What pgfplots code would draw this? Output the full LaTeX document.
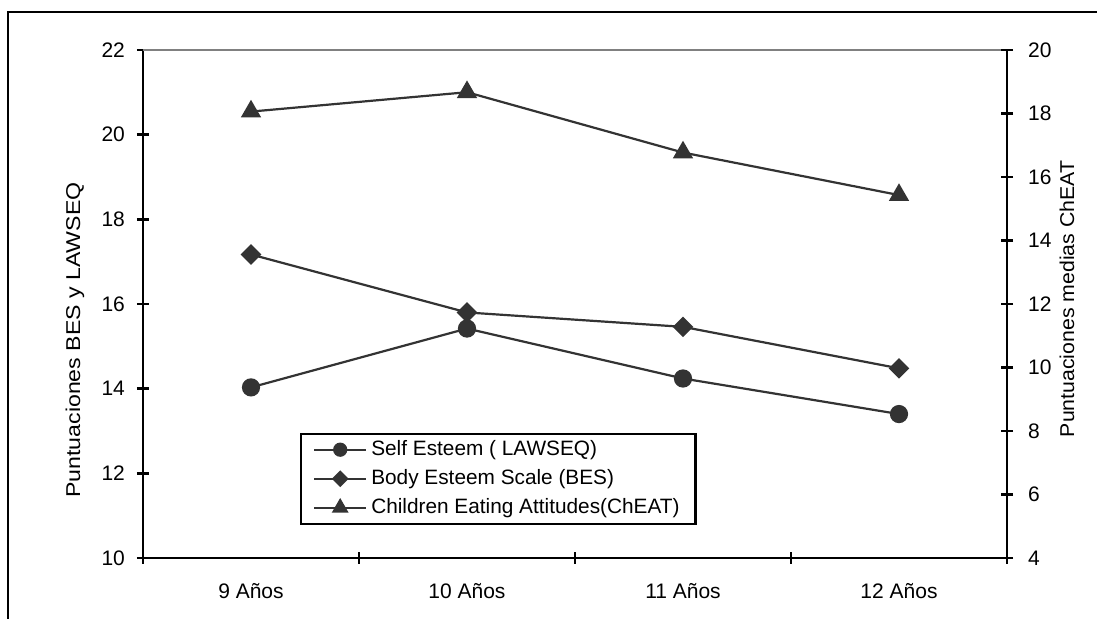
\documentclass[border=0pt]{standalone}
\usepackage{fontspec}
\setmainfont{Liberation Sans}
\usepackage{pgfplots}
\pgfplotsset{compat=1.18}
\definecolor{series}{HTML}{333333}
\definecolor{topgray}{HTML}{808080}

\begin{document}
\begin{tikzpicture}
\path[use as bounding box] (0pt,0pt) rectangle (548.5pt,309.5pt);
\draw[line width=1.1pt] (4pt,-5pt) -- (4pt,303.5pt) -- (560pt,303.5pt);

\pgfplotsset{
  common/.style={
    at={(71.5pt,30.5pt)}, anchor=south west,
    scale only axis, width=432pt, height=254pt,
    xmin=0.5, xmax=4.5,
    tick align=center, major tick length=6pt, minor tick length=6pt,
    tick style={black, line width=1.2pt},
    axis line style={black, line width=1.3pt, -},
    x axis line style={-}, y axis line style={-},
    ticklabel style={font=\fontsize{10.5}{12}\selectfont},
    /pgf/number format/assume math mode=true,
    label style={font=\fontsize{10}{12}\selectfont},
    clip=false,
  }
}

\begin{axis}[common,
  axis x line*=bottom, axis y line*=left,
  ymin=10, ymax=22, ytick={10,12,...,22},
  xtick={1,2,3,4}, xticklabels={9 Años,10 Años,11 Años,12 Años},
  minor xtick={0.5,1.5,2.5,3.5,4.5},
  major x tick style={draw=none},
  xticklabel style={yshift=-6pt},
  yticklabel style={xshift=-2.5pt},
  ylabel={\scalebox{1.156}[1]{Puntuaciones BES y LAWSEQ}},
  ylabel style={at={(axis description cs:-0.0787,0.429)}, anchor=center, rotate=0},
]
\draw[topgray, line width=1.1pt] (rel axis cs:0,1) -- (rel axis cs:1,1);
\addplot[series, line width=1.1pt, mark=*, mark size=4pt, mark options={solid, fill=series}]
  coordinates {(1,14.03) (2,15.42) (3,14.24) (4,13.40)};
\addplot[series, line width=1.1pt, mark=square*, mark size=3.1pt, mark options={solid, fill=series, rotate=45}]
  coordinates {(1,17.17) (2,15.80) (3,15.46) (4,14.48)};
\end{axis}

\begin{axis}[common,
  axis y line*=right, axis x line=none,
  ymin=4, ymax=20, ytick={4,6,...,20},
  yticklabel style={xshift=4pt},
  ylabel={\scalebox{1.064}[1]{Puntuaciones medias ChEAT}},
  ylabel style={at={(axis description cs:1.0694,0.51)}, anchor=center, rotate=0},
  legend image code/.code={\draw[mark repeat=2,mark phase=2] plot coordinates {(0pt,0pt) (13pt,0pt) (26pt,0pt)};},
  legend style={at={(axis description cs:0.1817,0.065)}, anchor=south west,
    draw=black, line width=1.1pt, font=\fontsize{10.4}{12}\selectfont,
    inner xsep=6pt, inner ysep=1.5pt, row sep=1.5pt,
    nodes={inner sep=2pt, anchor=west}},
  legend cell align=left,
]
\addplot[series, line width=1.1pt, mark=triangle*, mark size=4.8pt, mark options={solid, fill=series}, forget plot]
  coordinates {(1,18.06) (2,18.67) (3,16.77) (4,15.43)};
\addlegendimage{series, line width=1.1pt, mark=*, mark size=3pt, mark options={solid, fill=series}}
\addlegendentry{Self Esteem ( LAWSEQ)}
\addlegendimage{series, line width=1.1pt, mark=square*, mark size=2.4pt, mark options={solid, fill=series, rotate=45}}
\addlegendentry{Body Esteem Scale (BES)}
\addlegendimage{series, line width=1.1pt, mark=triangle*, mark size=3.8pt, mark options={solid, fill=series}}
\addlegendentry{Children Eating Attitudes(ChEAT)}
\end{axis}
\end{tikzpicture}
\end{document}
